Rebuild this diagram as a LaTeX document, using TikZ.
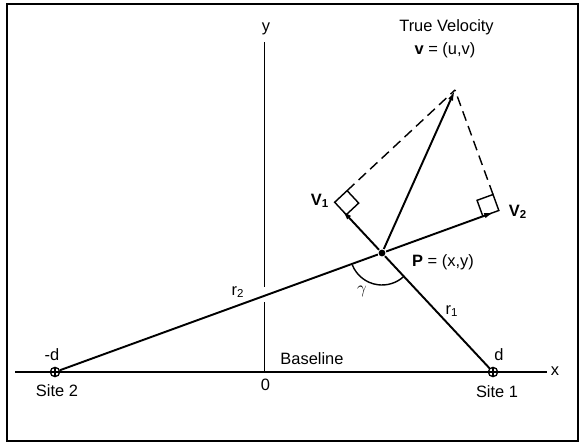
\documentclass[tikz,border=0pt]{standalone}
\usepackage{fontspec}
\setmainfont{Liberation Sans}
\usetikzlibrary{calc,arrows.meta}
\begin{document}
\begin{tikzpicture}[x=0.7pt,y=-0.7pt,
  font=\fontsize{11.5}{13}\selectfont,
  line width=1.35pt,
  vec/.style={-{Latex[length=7.5pt,width=3.6pt]}},
  sitemark/.style={circle,draw,fill=white,inner sep=0pt,minimum size=6.5pt,line width=0.9pt,
    path picture={\draw[line width=0.9pt] (path picture bounding box.north) -- (path picture bounding box.south)
      (path picture bounding box.west) -- (path picture bounding box.east);}},
  dot/.style={circle,fill,inner sep=0pt,minimum size=4.8pt},
  perpline/.style={dash pattern=on 7pt off 4pt,line width=1pt},
  rightbox/.style={line width=1pt},
  lbl/.style={inner sep=0pt}]
\useasboundingbox (0,0) rectangle (580,444);
\draw[line width=1.3pt] (7,4) rectangle (578,441);
% axes
\coordinate (xl) at (15,372);
\coordinate (xr) at (547,372);
\draw (xl) -- (xr);
\coordinate (yt) at (264.5,42);
\coordinate (g1) at (264.5,287);
\coordinate (g2) at (264.5,302);
\coordinate (yb) at (264.5,372);
\draw (yt) -- (g1);
\draw (g2) -- (yb);
% sites and point
\node[sitemark] (S2) at (55,372) {};
\node[sitemark] (S1) at (493,372) {};
\node[dot] (P) at (382,253) {};
\coordinate (T) at (455,90);
\coordinate (F1) at ($(S1)!(T)!(P)$);
\coordinate (F2) at ($(S2)!(T)!(P)$);
\coordinate (e1) at ($(P)!0.85!(F1)$);
\coordinate (e2) at ($(P)!0.965!(F2)$);
% radial lines
\draw (S2) -- (P);
\draw (S1) -- (P);
\draw[vec] (P) -- (e1);
\draw[vec] (P) -- (e2);
\draw[vec] (P) -- (T);
% right-angle boxes
\coordinate (a1) at ($(F1)!11.9pt!(P)$);
\coordinate (b1) at ($(F1)!11.9pt!(T)$);
\coordinate (c1) at ($(a1)+(b1)-(F1)$);
\draw[rightbox] (F1) -- (a1) -- (c1) -- (b1) -- cycle;
\coordinate (a2) at ($(F2)!11.9pt!(P)$);
\coordinate (b2) at ($(F2)!11.9pt!(T)$);
\coordinate (c2) at ($(a2)+(b2)-(F2)$);
\draw[rightbox] (F2) -- (a2) -- (c2) -- (b2) -- cycle;
\draw[perpline] (b1) -- (T);
\draw[perpline] (b2) -- (T);
% gamma arc
\draw[line width=1pt] ($(P)+(158:32)$) arc[start angle=158,end angle=48,radius=32];
% labels
\node[lbl] (ylab) at (266,29) {y};
\node[lbl] (xlab) at (555,371) {x};
\node[lbl] (zero) at (265.5,385) {0};
\node[lbl] (base) at (312,359) {Baseline};
\node[lbl] (md) at (52,355) {-d};
\node[lbl] (pd) at (499,355) {d};
\node[lbl] (s2lab) at (57,391) {Site 2};
\node[lbl] (s1lab) at (497,392) {Site 1};
\node[lbl] (tv1) at (446.5,27) {True Velocity};
\node[lbl] (tv2) at (445,50) {\textbf{v} = (u,v)};
\node[lbl] (plab) at (443,262) {\textbf{P} = (x,y)};
\node[lbl] (v1lab) at (320,201) {\textbf{V\textsubscript{1}}};
\node[lbl] (v2lab) at (518,212) {\textbf{V\textsubscript{2}}};
\node[lbl] (r1lab) at (452,311) {r\textsubscript{1}};
\node[lbl] (r2lab) at (238,292) {r\textsubscript{2}};
\node[lbl] (glab) at (362,291) {$\gamma$};
\end{tikzpicture}
\end{document}
